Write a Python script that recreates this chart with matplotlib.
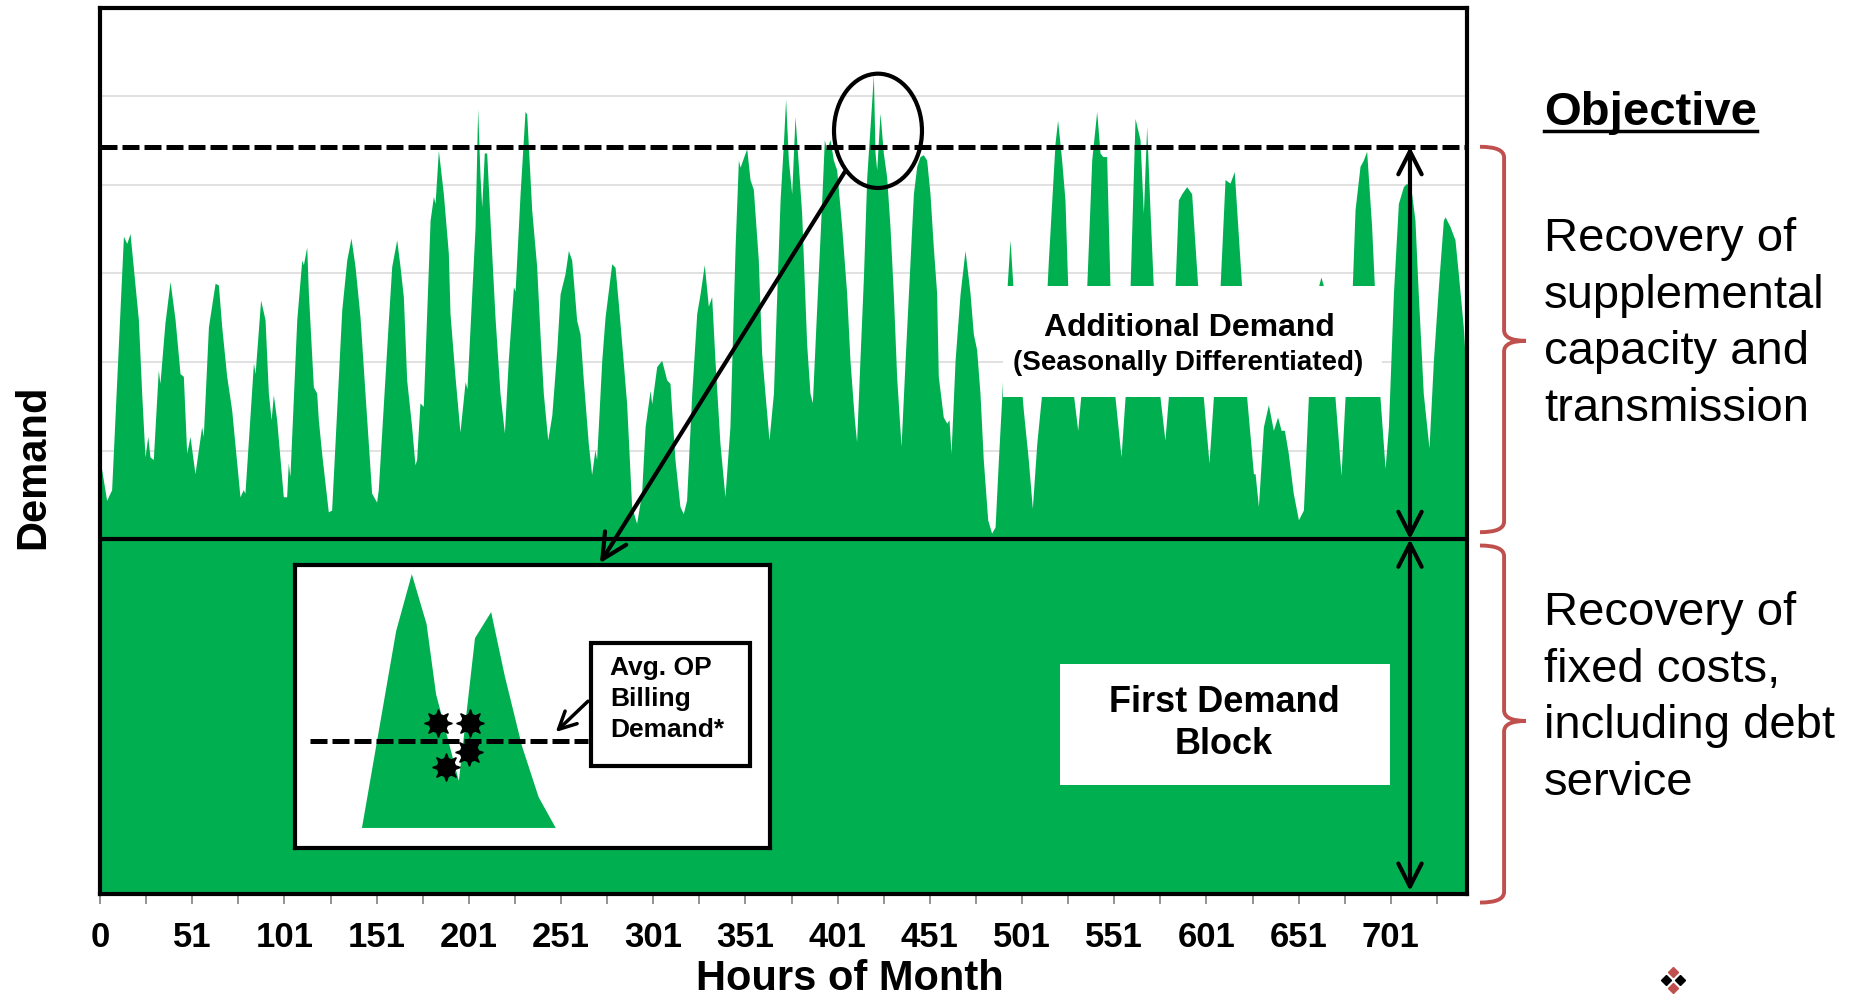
import matplotlib.pyplot as plt
from matplotlib.patches import Rectangle, Ellipse, PathPatch
from matplotlib.path import Path
from matplotlib.lines import Line2D
from matplotlib.transforms import blended_transform_factory

plt.rcParams['font.family'] = ['Liberation Sans', 'DejaVu Sans']

# === load trace: key points of each day's curve ===
hours = [0, 3.6, 6.3, 12.7, 14.5, 16.3, 20.8, 22.6, 24.4, 25.9, 27.1, 28.9,
         31.6, 32.5, 35.2, 38.0, 40.7, 43.4, 45.2, 47.0, 48.8, 51.5,
         55.1, 56.0, 58.8, 62.4, 64.2, 66.0, 68.7, 71.4, 75.9, 77.7, 78.6,
         83.2, 84.1, 87.1, 89.5, 91.3, 92.8, 94.0, 95.8, 99.4, 101.2, 102.1, 103.0,
         106.7, 109.4, 110.3, 112.1, 113.0, 115.7, 117.5, 118.4, 120.2, 123.8, 125.6,
         131.1, 133.8, 136.1, 138.3, 141.0, 143.7, 147.3, 150.0, 150.9,
         156.4, 158.2, 160.9, 162.7, 164.5, 166.3, 169.0, 170.8, 171.7, 173.5, 175.3,
         179.0, 180.8, 181.7, 183.5, 186.2, 188.9, 189.8, 192.5, 195.2,
         198.0, 199.0, 200.7, 203.4, 204.8, 206.1, 207.0, 208.4, 209.7, 211.5, 214.2, 216.9, 219.3,
         221.4, 224.2, 225.1, 227.8, 230.5, 231.4, 234.1, 236.8, 238.6, 240.4, 242.8,
         245.0, 247.7, 249.5, 252.2, 254.0, 255.8, 258.5, 260.3, 262.1, 264.8, 266.6,
         268.4, 269.3, 272.1, 273.9, 277.5, 279.3, 281.1, 283.8, 285.6, 288.3, 291.0,
         293.7, 295.6, 298.3, 299.2, 301.9, 304.6, 307.3, 309.1, 310.0, 311.8, 314.5, 316.3,
         318.1, 320.9, 323.6, 325.4, 327.7, 329.9, 331.7, 333.5, 336.2, 338.9,
         341.6, 344.4, 346.2, 347.1, 350.7, 352.5, 354.3, 357.0, 358.8, 360.6, 362.8,
         365.2, 367.0, 368.8, 370.6, 371.8, 373.3, 375.1, 376.9, 380.5, 383.2, 385.0, 386.3,
         388.6, 391.4, 392.8, 394.0, 395.9, 397.7, 399.5, 402.2, 404.9, 406.7, 409.1, 410.3,
         412.1, 414.0, 415.8, 417.6, 419.4, 420.3, 421.2, 423.0, 424.8, 426.6, 428.4, 430.2, 432.0, 434.4,
         436.6, 439.3, 441.1, 442.9, 444.7, 446.5, 448.3, 450.1, 451.9, 453.7, 454.6, 457.3, 459.2, 460.4, 461.5,
         463.7, 466.4, 469.1, 471.8, 473.6, 475.4, 477.2, 479.0, 481.4, 483.5, 485.4,
         487.2, 489.0, 491.7, 493.5, 495.3, 500.7, 503.4, 505.6,
         508.0, 510.7, 514.3, 517.9, 519.3, 521.5, 523.3, 524.8, 527.8, 530.2,
         532.0, 535.1, 537.8, 540.5, 542.3, 543.8, 545.9, 547.7, 550.4, 553.7,
         555.9, 558.6, 561.3, 564.0, 565.8, 567.6, 569.4, 571.2, 574.8, 577.5,
         579.4, 583.0, 584.8, 586.6, 589.3, 592.0, 595.3, 598.3, 601.4,
         603.8, 607.4, 610.1, 612.8, 615.1, 619.1, 621.8, 625.5, 626.4, 628.2,
         630.9, 633.6, 636.3, 638.6, 640.5, 642.3, 644.4, 647.1, 649.9,
         652.6, 655.3, 660.7, 662.1, 663.6, 669.7, 673.0,
         675.2, 679.1, 680.6, 683.3, 685.1, 686.9, 689.6, 691.1, 694.1, 696.9,
         698.7, 701.4, 704.1, 706.8, 708.6, 711.3, 713.1, 714.9, 717.6, 720.7,
         723.1, 725.8, 728.5, 729.4, 732.1, 734.8, 736.6, 739.3, 741.1]

demand = [490, 444, 456, 742, 734, 745, 648, 565, 493, 516, 493, 490,
          591, 576, 644, 691, 648, 587, 584, 497, 516, 474,
          527, 516, 640, 689, 687, 640, 584, 546, 448, 456, 452,
          599, 587, 670, 648, 565, 535, 563, 535, 448, 448, 486, 471,
          648, 715, 710, 730, 678, 572, 565, 535, 497, 431, 433,
          659, 715, 740, 708, 651, 565, 452, 442, 456,
          648, 708, 738, 708, 674, 580, 527, 484, 490, 554, 550,
          760, 787, 779, 839, 790, 723, 655, 584, 521,
          578, 570, 640, 753, 886, 809, 775, 836, 836, 760, 651, 565, 520,
          602, 685, 680, 790, 883, 880, 772, 708, 632, 565, 512,
          540, 614, 677, 700, 726, 715, 647, 632, 580, 508, 473,
          501, 490, 602, 651, 711, 707, 666, 599, 553, 437, 418,
          452, 527, 568, 553, 595, 602, 580, 576, 546, 490, 437, 429,
          444, 565, 655, 677, 710, 663, 674, 602, 508, 448,
          527, 730, 828, 820, 841, 806, 795, 715, 610, 565, 512,
          565, 677, 783, 847, 897, 828, 790, 877, 768, 621, 565, 554,
          659, 783, 851, 840, 851, 828, 817, 753, 678, 602, 535, 510,
          602, 696, 809, 866, 924, 836, 817, 881, 836, 809, 753, 678, 584, 505,
          602, 715, 790, 821, 832, 834, 828, 790, 730, 678, 584, 538, 531, 535, 497,
          602, 677, 726, 678, 632, 614, 565, 490, 422, 407, 414,
          490, 560, 678, 738, 678, 546, 490, 435,
          508, 565, 715, 847, 873, 828, 783, 685, 565, 523,
          565, 685, 828, 883, 836, 832, 832, 685, 561, 493,
          561, 685, 875, 851, 768, 866, 772, 685, 561, 512,
          561, 685, 783, 790, 798, 790, 685, 561, 486,
          561, 685, 806, 802, 815, 685, 561, 474, 474, 437,
          527, 552, 523, 538, 523, 523, 497, 452, 422,
          433, 561, 685, 696, 685, 561, 472,
          561, 685, 772, 821, 828, 838, 753, 685, 561, 480,
          527, 677, 779, 798, 802, 790, 760, 677, 565, 503,
          602, 685, 760, 764, 753, 738, 700, 640, 578]

first_block = 400      # first demand block level
avg_peak = 843         # dashed seasonal demand level

tick_pos = [0, 50, 100, 150, 200, 250, 300, 350, 400, 450, 500, 550, 600, 650, 700]
tick_labels = ['0', '51', '101', '151', '201', '251', '301', '351', '401',
               '451', '501', '551', '601', '651', '701']
minor_pos = [25, 75, 125, 175, 225, 275, 325, 375, 425, 475, 525, 575, 625, 675, 725]

# inset: zoomed sketch of two peaks (inset axes runs 0..100 both ways)
inset_x = [14.1, 21.3, 24.6, 27.7, 29.7, 34.5, 37.9, 41.3, 44.2, 47.8, 51.3, 54.9]
inset_y = [7.1, 76.7, 96.8, 79.2, 54.4, 23.7, 74.2, 83.4, 60.6, 36.0, 18.0, 7.1]
inset_avg = 37.8
star_x = [30.1, 36.8, 36.6, 31.8]
star_y = [44.2, 44.2, 33.9, 28.6]

GREEN = '#00B050'
RED = '#C0504D'

fig = plt.figure(figsize=(18.53, 9.97), dpi=100)
ax = fig.add_axes([0.05397, 0.1036, 0.7377, 0.8887])

ax.fill_between(hours, 0, demand, color=GREEN, lw=0, zorder=2)
ax.set_xlim(0, 741.3)
ax.set_ylim(0, 1000)

ax.set_yticks(range(0, 1001, 100))
ax.yaxis.grid(True, color='#D9D9D9', lw=1.1)
ax.set_axisbelow(True)
ax.tick_params(axis='y', length=0, labelleft=False)

ax.set_xticks(tick_pos)
ax.set_xticklabels(tick_labels, fontsize=25, fontweight='bold')
ax.set_xticks(minor_pos, minor=True)
ax.tick_params(axis='x', which='both', direction='out', length=7.5, width=1.2,
               color='#808080', pad=12)
for s in ['left', 'top', 'right', 'bottom']:
    ax.spines[s].set_linewidth(3)
    ax.spines[s].set_color('black')
    ax.spines[s].set_zorder(8)

# demand levels
ax.axhline(avg_peak, color='black', lw=3.6, dashes=(3.4, 1.0), zorder=4)
ax.axhline(first_block, color='black', lw=3, zorder=4)

# label boxes
ax.add_patch(Rectangle((489.7, 560.6), 205.5, 125.3, fc='white', ec='none', zorder=5))
ax.text(591, 639, 'Additional Demand', fontsize=23, fontweight='bold',
        ha='center', va='center', zorder=6)
ax.text(590, 599, '(Seasonally Differentiated)', fontsize=20, fontweight='bold',
        ha='center', va='center', zorder=6)

ax.add_patch(Rectangle((520.6, 122.7), 179, 136.3, fc='white', ec='none', zorder=5))
ax.text(609.5, 192, 'First Demand\nBlock', fontsize=26, fontweight='bold',
        ha='center', va='center', multialignment='center', linespacing=1.25, zorder=6)

# double arrows
arrow_kw = dict(arrowstyle='<->, head_length=0.55, head_width=0.28', lw=3,
                color='black', shrinkA=0, shrinkB=0, mutation_scale=30)
ax.annotate('', xy=(710.4, avg_peak), xytext=(710.4, first_block),
            arrowprops=arrow_kw, zorder=7)
ax.annotate('', xy=(710.4, first_block), xytext=(710.4, 3),
            arrowprops=arrow_kw, zorder=7)

# circled peak and pointer to inset
ax.add_patch(Ellipse((421.9, 861), 47.7, 129, fill=False, ec='black', lw=3, zorder=7))
ax.annotate('', xy=(271.1, 373), xytext=(404, 815), annotation_clip=False,
            arrowprops=dict(arrowstyle='->, head_length=0.6, head_width=0.3', lw=3,
                            color='black', shrinkA=0, shrinkB=0, mutation_scale=30),
            zorder=7)

# braces on the right
trans = blended_transform_factory(fig.transFigure, ax.transData)


def brace(y_top, y_bot, y_mid):
    xh, xs, xt, r = 0.7987, 0.8117, 0.8235, 12
    verts = [(xh, y_top), (xs, y_top), (xs, y_top - r),
             (xs, y_mid + r),
             (xs, y_mid), (xt, y_mid),
             (xs, y_mid), (xs, y_mid - r),
             (xs, y_bot + r),
             (xs, y_bot), (xh, y_bot)]
    codes = [Path.MOVETO, Path.CURVE3, Path.CURVE3, Path.LINETO,
             Path.CURVE3, Path.CURVE3, Path.CURVE3, Path.CURVE3,
             Path.LINETO, Path.CURVE3, Path.CURVE3]
    p = PathPatch(Path(verts, codes), fill=False, ec=RED, lw=2.8,
                  transform=trans, clip_on=False)
    ax.add_patch(p)


brace(avg_peak, 408, 624)
brace(393, -10, 195)

# inset
ins = fig.add_axes([0.1592, 0.1494, 0.2563, 0.2838])
ins.set_xlim(0, 100)
ins.set_ylim(0, 100)
ins.set_xticks([])
ins.set_yticks([])
for s in ins.spines.values():
    s.set_linewidth(3)
ins.fill(inset_x, inset_y, color=GREEN, lw=0)
ins.plot([3.2, 61.7], [inset_avg, inset_avg], color='black', lw=3.6, dashes=(3.4, 1.0))
ins.plot(star_x, star_y, ls='none', marker=(8, 1, 0), ms=20, color='black')
ins.plot(star_x, star_y, ls='none', marker='o', ms=13, color='black')
ins.add_patch(Rectangle((62.3, 29.0), 33.5, 43.4, fc='white', ec='black', lw=3, zorder=3))
ins.text(66.3, 63.8, 'Avg. OP', fontsize=19, fontweight='bold', va='center', zorder=4)
ins.text(66.3, 52.7, 'Billing', fontsize=19, fontweight='bold', va='center', zorder=4)
ins.text(66.3, 41.6, 'Demand*', fontsize=19, fontweight='bold', va='center', zorder=4)
ins.annotate('', xy=(54.9, 41.0), xytext=(61.7, 51.9),
             arrowprops=dict(arrowstyle='->, head_length=0.5, head_width=0.25', lw=2.5,
                             color='black', shrinkA=0, shrinkB=0, mutation_scale=25))

# axis titles
fig.text(33 / 1853, 1 - 467 / 997, 'Demand', fontsize=30, fontweight='bold',
         rotation=90, ha='center', va='center')
fig.text(850 / 1853, 1 - 979 / 997, 'Hours of Month', fontsize=30, fontweight='bold',
         ha='center', va='center')

# objective column
obj = fig.text(1544 / 1853, 1 - 125 / 997, 'Objective', fontsize=34, fontweight='bold',
               ha='left', va='baseline')
fig.canvas.draw()
bb = obj.get_window_extent()
fig.add_artist(Line2D([bb.x0 / 1853, bb.x1 / 1853], [1 - 131 / 997] * 2,
                      color='black', lw=2.5))
fig.text(1544 / 1853, 1 - 324 / 997,
         'Recovery of\nsupplemental\ncapacity and\ntransmission',
         fontsize=34, ha='left', va='center', linespacing=1.37)
fig.text(1544 / 1853, 1 - 698 / 997,
         'Recovery of\nfixed costs,\nincluding debt\nservice',
         fontsize=34, ha='left', va='center', linespacing=1.37)

# small logo mark
for lx, ly, lc in [(1673, 972, RED), (1666, 980, 'black'), (1680, 980, 'black'),
                   (1673, 988, RED)]:
    fig.add_artist(Line2D([lx / 1853], [1 - ly / 997], marker='D', ms=5, color=lc,
                          ls='none'))

fig.savefig('out.png', dpi=100)
